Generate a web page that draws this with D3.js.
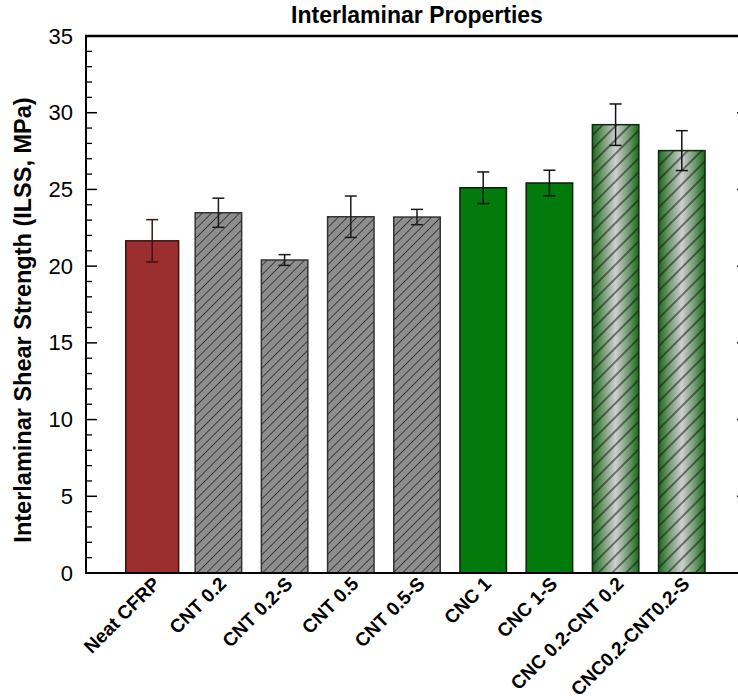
<!DOCTYPE html>
<html>
<head>
<meta charset="utf-8">
<script src="https://cdn.jsdelivr.net/npm/d3@7"></script>
<style>
  html, body { margin: 0; padding: 0; background: #fff; }
  svg { display: block; font-family: Arial, "Liberation Sans", sans-serif; }
</style>
</head>
<body>
<svg id="chart" width="738" height="700"></svg>
<script>
// Interlaminar shear strength per laminate type
const categories = ["Neat CFRP", "CNT 0.2", "CNT 0.2-S", "CNT 0.5", "CNT 0.5-S",
                    "CNC 1", "CNC 1-S", "CNC 0.2-CNT 0.2", "CNC0.2-CNT0.2-S"];
const ilss  = [21.65, 23.48, 20.40, 23.22, 23.20, 25.11, 25.42, 29.22, 27.53];
const ilssSd = [1.38, 0.95, 0.35, 1.35, 0.50, 1.03, 0.83, 1.35, 1.30];
// material group of each bar, used to pick its fill
const groups = ["neat", "cnt", "cnt", "cnt", "cnt", "cnc", "cnc", "hybrid", "hybrid"];
const yTicks = [0, 5, 10, 15, 20, 25, 30, 35];

const svg = d3.select("#chart");
const margin = { left: 86, right: 748, top: 36, bottom: 573 };

const x = d3.scaleBand()
  .domain(categories)
  .range([margin.left, margin.right])
  .paddingInner(0.298)
  .paddingOuter(0.649);

const y = d3.scaleLinear().domain([0, 35]).range([margin.bottom, margin.top]);

// ---- fills: hatch patterns and gradient ----
const defs = svg.append("defs");

const grad = defs.append("linearGradient")
  .attr("id", "hybridGrad").attr("x1", "0%").attr("x2", "100%").attr("y1", "0%").attr("y2", "0%");
[[0, "#1b681b"], [0.22, "#6f9a6f"], [0.5, "#cfcfcf"], [0.78, "#6f9a6f"], [1, "#1b681b"]]
  .forEach(([o, c]) => grad.append("stop").attr("offset", o).attr("stop-color", c));

function hatch(id, spacing, stroke, width) {
  const p = defs.append("pattern")
    .attr("id", id)
    .attr("patternUnits", "userSpaceOnUse")
    .attr("width", spacing).attr("height", spacing)
    .attr("patternTransform", "rotate(45)");
  p.append("line")
    .attr("x1", spacing / 2).attr("x2", spacing / 2)
    .attr("y1", -1).attr("y2", spacing + 1)
    .attr("stroke", stroke).attr("stroke-width", width);
}
hatch("hatchGray", 6.6, "#2e2e2e", 0.85);
hatch("hatchHybrid", 9.8, "#111", 1.0);

const style = {
  neat:   { base: "#9b2f30", hatch: null, stroke: "#3a1010", err: "#3c1414", widen: 3.2 },
  cnt:    { base: "#8e8e8e", hatch: "url(#hatchGray)", stroke: "#333", err: "#1a1a1a", widen: 0 },
  cnc:    { base: "#037a0c", hatch: null, stroke: "#0a1f0a", err: "#111", widen: 0 },
  hybrid: { base: "url(#hybridGrad)", hatch: "url(#hatchHybrid)", stroke: "#0d2d0d", err: "#111", widen: 0 }
};

const data = categories.map((c, i) => ({ c, v: ilss[i], sd: ilssSd[i], g: groups[i] }));

// ---- bars ----
const bars = svg.append("g");
data.forEach(d => {
  const s = style[d.g];
  const bx = x(d.c) - s.widen;
  const bw = x.bandwidth() + s.widen * 2;
  const by = y(d.v);
  const bh = y(0) - y(d.v);
  bars.append("rect").attr("x", bx).attr("y", by).attr("width", bw).attr("height", bh)
    .attr("fill", s.base);
  if (s.hatch) {
    bars.append("rect").attr("x", bx).attr("y", by).attr("width", bw).attr("height", bh)
      .attr("fill", s.hatch);
  }
  bars.append("rect").attr("x", bx).attr("y", by).attr("width", bw).attr("height", bh)
    .attr("fill", "none").attr("stroke", s.stroke).attr("stroke-width", 1.5);
});

// ---- error bars ----
const err = svg.append("g").attr("stroke-width", 1.5).attr("fill", "none");
data.forEach(d => {
  const s = style[d.g];
  const cx = x(d.c) + x.bandwidth() / 2;
  const yt = y(d.v + d.sd), yb = y(d.v - d.sd);
  err.append("line").attr("x1", cx).attr("x2", cx).attr("y1", yt).attr("y2", yb).attr("stroke", s.err);
  [yt, yb].forEach(yy => err.append("line")
    .attr("x1", cx - 6).attr("x2", cx + 6).attr("y1", yy).attr("y2", yy).attr("stroke", s.err));
});

// ---- frame and axes ----
const minor = d3.range(0, 36, 1).filter(v => v % 5 !== 0);

const left = svg.append("g").attr("transform", `translate(${margin.left},0)`)
  .call(d3.axisLeft(y).tickValues(yTicks).tickSize(0).tickPadding(13));
left.select(".domain").remove();
left.selectAll("text").attr("font-size", 22).attr("fill", "#000")
  .attr("font-family", "Arial, 'Liberation Sans', sans-serif");

const axes = svg.append("g").attr("stroke", "#000");
// left / right major + minor ticks (inward)
yTicks.forEach(v => {
  axes.append("line").attr("x1", margin.left).attr("x2", margin.left + 11)
    .attr("y1", y(v)).attr("y2", y(v)).attr("stroke-width", 1.5);
  axes.append("line").attr("x1", margin.right).attr("x2", margin.right - 11)
    .attr("y1", y(v)).attr("y2", y(v)).attr("stroke-width", 1.5);
});
minor.forEach(v => {
  axes.append("line").attr("x1", margin.left).attr("x2", margin.left + 6)
    .attr("y1", y(v)).attr("y2", y(v)).attr("stroke-width", 1.3);
  axes.append("line").attr("x1", margin.right).attr("x2", margin.right - 6)
    .attr("y1", y(v)).attr("y2", y(v)).attr("stroke-width", 1.3);
});
axes.append("line").attr("x1", margin.left).attr("x2", margin.left)
  .attr("y1", margin.top - 1).attr("y2", margin.bottom + 1).attr("stroke-width", 2);
axes.append("line").attr("x1", margin.right).attr("x2", margin.right)
  .attr("y1", margin.top - 1).attr("y2", margin.bottom + 1).attr("stroke-width", 2);
axes.append("line").attr("x1", margin.left - 1).attr("x2", margin.right + 1)
  .attr("y1", margin.top).attr("y2", margin.top).attr("stroke-width", 2.5);
axes.append("line").attr("x1", margin.left - 1).attr("x2", margin.right + 1)
  .attr("y1", margin.bottom).attr("y2", margin.bottom).attr("stroke-width", 2);

// ---- category labels ----
const xl = svg.append("g");
data.forEach(d => {
  const cx = x(d.c) + x.bandwidth() / 2;
  xl.append("text")
    .attr("transform", `translate(${cx + 9},${margin.bottom + 12}) rotate(-45)`)
    .attr("text-anchor", "end")
    .attr("font-size", 19).attr("font-weight", "bold")
    .text(d.c);
});

// ---- titles ----
svg.append("text")
  .attr("x", (margin.left + margin.right) / 2).attr("y", 23)
  .attr("text-anchor", "middle").attr("font-size", 23).attr("font-weight", "bold")
  .text("Interlaminar Properties");

svg.append("text")
  .attr("transform", `translate(31,320) rotate(-90)`)
  .attr("text-anchor", "middle").attr("font-size", 23.5).attr("font-weight", "bold")
  .text("Interlaminar Shear Strength (ILSS, MPa)");
</script>
</body>
</html>
